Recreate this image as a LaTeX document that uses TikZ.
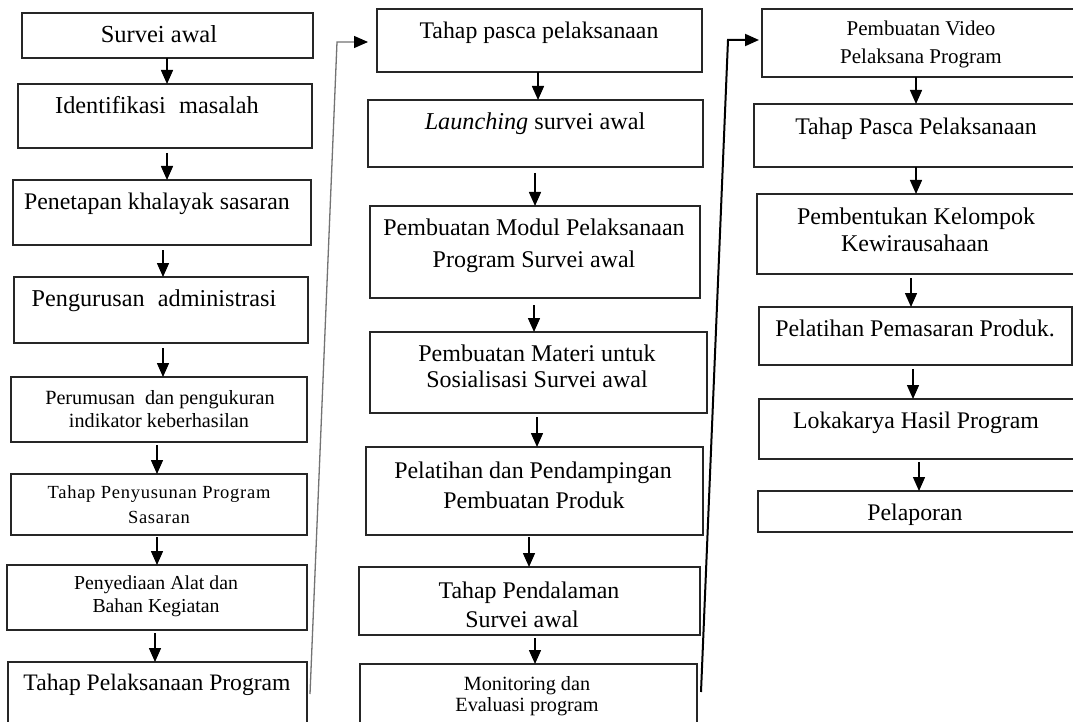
\documentclass[tikz,border=0pt]{standalone}
\usepackage{fontspec}
\setmainfont{Liberation Serif}
\usetikzlibrary{arrows.meta}
\newcommand\fsz[1]{\fontsize{#1}{#1}\selectfont}
\newcommand\mytext[5]{\node[txt,font=\fsz{#4}] (#1) at (#2,#3) {#5};}
\begin{document}
\begin{tikzpicture}[x=1pt,y=-1pt,
  box/.style={draw=black!85, line width=1.5pt, inner sep=0pt, outer sep=0pt},
  txt/.style={inner sep=0pt, anchor=base, text=black},
  arr/.style={line width=1.5pt, -{Triangle[length=14pt,width=12pt]}},
  link/.style={line width=1.3pt, -{Triangle[length=14pt,width=12pt,color=black,fill=black]}},
]
\useasboundingbox (0,0) rectangle (1073,722);
\fill[white] (0,0) rectangle (1073,722);

% ---------- column 1 boxes ----------
\node[box, minimum width=291pt, minimum height=45pt] (B1) at (167.5,35.5) {};
\node[box, minimum width=294pt, minimum height=64pt] (B2) at (165,116) {};
\node[box, minimum width=298pt, minimum height=65pt] (B3) at (162,212.5) {};
\node[box, minimum width=294pt, minimum height=66pt] (B4) at (161,310) {};
\node[box, minimum width=296pt, minimum height=65pt] (B5) at (159,409.5) {};
\node[box, minimum width=296pt, minimum height=61pt] (B6) at (159,504.5) {};
\node[box, minimum width=300pt, minimum height=65pt] (B7) at (157,597.5) {};
\node[box, minimum width=299pt, minimum height=78pt] (B8) at (157.5,701) {};

% ---------- column 2 boxes ----------
\node[box, minimum width=325pt, minimum height=63pt] (C1) at (539.5,40.5) {};
\node[box, minimum width=335pt, minimum height=67pt] (C2) at (535.5,133.5) {};
\node[box, minimum width=330pt, minimum height=92pt] (C3) at (535,252) {};
\node[box, minimum width=337pt, minimum height=81pt] (C4) at (538.5,372.5) {};
\node[box, minimum width=337pt, minimum height=88pt] (C5) at (534.5,491) {};
\node[box, minimum width=341pt, minimum height=68pt] (C6) at (529.5,601) {};
\node[box, minimum width=337pt, minimum height=76pt] (C7) at (528.5,702) {};

% ---------- column 3 boxes ----------
\node[box, minimum width=328pt, minimum height=68pt] (D1) at (926,43) {};
\node[box, minimum width=336pt, minimum height=63pt] (D2) at (922,135.5) {};
\node[box, minimum width=333pt, minimum height=80pt] (D3) at (923.5,234) {};
\node[box, minimum width=313pt, minimum height=58pt] (D4) at (915.5,336) {};
\node[box, minimum width=331pt, minimum height=60pt] (D5) at (924.5,429) {};
\node[box, minimum width=332pt, minimum height=41pt] (D6) at (924,511.5) {};

% ---------- texts column 1 ----------
\mytext{tB1}{159}{43}{24.5}{Survei awal}
\mytext{tB2}{157}{114}{24.3}{Identifikasi\hspace{0.3em} masalah}
\mytext{tB3}{157}{210}{23.8}{Penetapan khalayak sasaran}
\mytext{tB4}{154}{306}{24.2}{Pengurusan\hspace{0.3em} administrasi}
\mytext{tB5a}{160}{404}{20.2}{Perumusan\hspace{0.25em} dan pengukuran}
\mytext{tB5b}{159}{427}{20.2}{indikator keberhasilan}
\node[txt,font={\fsz{18.5}\addfontfeature{LetterSpace=4}}] (tB6a) at (159,498) {Tahap Penyusunan Program};
\node[txt,font={\fsz{18.5}\addfontfeature{LetterSpace=4}}] (tB6b) at (159,523) {Sasaran};
\mytext{tB7a}{156}{589}{19.8}{Penyediaan Alat dan}
\mytext{tB7b}{156}{612}{19.8}{Bahan Kegiatan}
\mytext{tB8}{157}{690}{23.6}{Tahap Pelaksanaan Program}

% ---------- texts column 2 ----------
\mytext{tC1}{539}{39}{23.8}{Tahap pasca pelaksanaan}
\mytext{tC2}{535}{130}{24.2}{{\itshape Launching} survei awal}
\mytext{tC3a}{534}{236}{24}{Pembuatan Modul Pelaksanaan}
\mytext{tC3b}{534}{267}{24}{Program Survei awal}
\mytext{tC4a}{537}{361}{24}{Pembuatan Materi untuk}
\mytext{tC4b}{537}{387}{24}{Sosialisasi Survei awal}
\mytext{tC5a}{533}{478}{23.9}{Pelatihan dan Pendampingan}
\mytext{tC5b}{534}{508}{23.9}{Pembuatan Produk}
\mytext{tC6a}{529}{598}{23.9}{Tahap Pendalaman}
\mytext{tC6b}{522}{627}{23.9}{Survei awal}
\mytext{tC7a}{527}{690}{20.2}{Monitoring dan}
\mytext{tC7b}{527}{711}{20.2}{Evaluasi program}

% ---------- texts column 3 ----------
\mytext{tD1a}{921}{36}{21}{Pembuatan Video}
\mytext{tD1b}{921}{64}{21}{Pelaksana Program}
\mytext{tD2}{916}{135}{23.8}{Tahap Pasca Pelaksanaan}
\mytext{tD3a}{916}{224}{24}{Pembentukan Kelompok}
\mytext{tD3b}{915}{251}{24}{Kewirausahaan}
\mytext{tD4}{915}{336}{23.9}{Pelatihan Pemasaran Produk.}
\mytext{tD5}{916}{428}{23.8}{Lokakarya Hasil Program}
\mytext{tD6}{915}{520}{23.8}{Pelaporan}

% ---------- arrow x positions ----------
\coordinate (xa1) at (167,0);
\coordinate (xa3) at (163,0);
\coordinate (xa5) at (157,0);
\coordinate (xa7) at (155,0);
\coordinate (xb1) at (538,0);
\coordinate (xb2) at (535,0);
\coordinate (xb3) at (534,0);
\coordinate (xb4) at (537,0);
\coordinate (xb5) at (529,0);
\coordinate (xc1) at (916,0);
\coordinate (xc3) at (911,0);
\coordinate (xc4) at (913,0);
\coordinate (xc5) at (919,0);

% ---------- arrows column 1 ----------
\draw[arr] (B1.south -| xa1) -- (B2.north -| xa1);
\draw[arr, shorten <=5pt] (B2.south -| xa1) -- (B3.north -| xa1);
\draw[arr, shorten <=5pt] (B3.south -| xa3) -- (B4.north -| xa3);
\draw[arr, shorten <=5pt] (B4.south -| xa3) -- (B5.north -| xa3);
\draw[arr, shorten <=3pt] (B5.south -| xa5) -- (B6.north -| xa5);
\draw[arr, shorten <=2pt] (B6.south -| xa5) -- (B7.north -| xa5);
\draw[arr, shorten <=3pt] (B7.south -| xa7) -- (B8.north -| xa7);

% ---------- arrows column 2 ----------
\draw[arr] (C1.south -| xb1) -- (C2.north -| xb1);
\draw[arr, shorten <=6pt] (C2.south -| xb2) -- (C3.north -| xb2);
\draw[arr, shorten <=7pt] (C3.south -| xb3) -- (C4.north -| xb3);
\draw[arr, shorten <=4pt] (C4.south -| xb4) -- (C5.north -| xb4);
\draw[arr, shorten <=2pt] (C5.south -| xb5) -- (C6.north -| xb5);
\draw[arr, shorten <=3pt] (C6.south -| xb2) -- (C7.north -| xb2);

% ---------- arrows column 3 ----------
\draw[arr] (D1.south -| xc1) -- (D2.north -| xc1);
\draw[arr] (D2.south -| xc1) -- (D3.north -| xc1);
\draw[arr, shorten <=4pt] (D3.south -| xc3) -- (D4.north -| xc3);
\draw[arr, shorten <=4pt] (D4.south -| xc4) -- (D5.north -| xc4);
\draw[arr, shorten <=3pt] (D5.south -| xc5) -- (D6.north -| xc5);

% ---------- links between columns ----------
\coordinate (s1) at (310,694);
\coordinate (k1) at (337,42);
\draw[link, draw=black!55] (s1) -- (k1) -- ([xshift=-9pt]C1.west |- k1);
\coordinate (s2) at (701,692);
\coordinate (k2) at (728,40);
\draw[link, line width=2pt] (s2) -- (k2) -- ([xshift=-3pt]D1.west |- k2);
\end{tikzpicture}
\end{document}
